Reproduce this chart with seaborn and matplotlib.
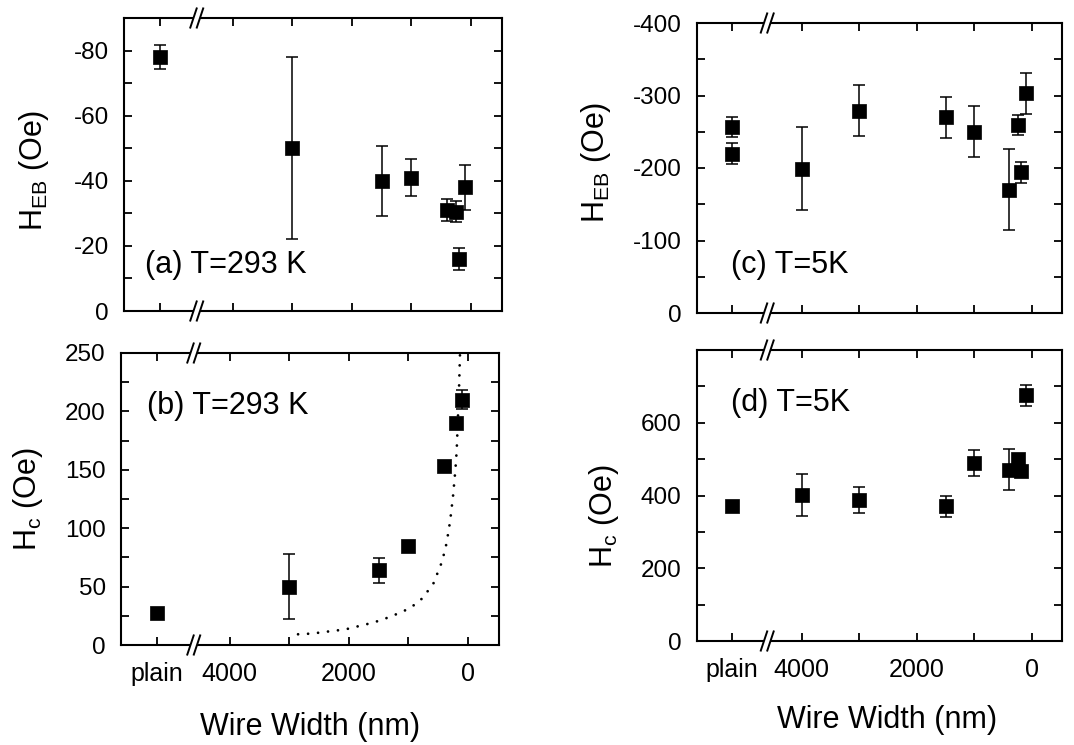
import matplotlib
matplotlib.use("Agg")
import matplotlib.pyplot as plt
from matplotlib.patches import Rectangle
from matplotlib.ticker import FixedLocator
import pandas as pd
import seaborn as sns

# ---------------------------------------------------------------- data
# wire widths in nm; "plain" is the unpatterned reference film
width_a = ["plain", 3000, 1500, 1000, 400, 250, 200, 100]
heb_a = [-78, -50, -40, -41, -31, -30.5, -16, -38]
err_a = [3.7, 28, 10.7, 5.6, 3.5, 3.3, 3.5, 7]

width_b = ["plain", 3000, 1500, 1000, 400, 200, 100]
hc_b = [27, 50, 64, 85, 153, 190, 210]
err_b = [2, 28, 10.5, 3, 2, 4, 8]

# dotted guide curve in panel (b)
fit_w = [3000, 2610, 2420, 2220, 2030, 1580, 1300, 1030, 860, 750, 670, 580,
         530, 470, 420, 360, 300, 250, 210, 190, 178, 150, 135]
fit_hc = [8.8, 9.8, 11.1, 12.3, 13.7, 19.3, 24.2, 30.2, 35.6, 40.8, 46.5, 52.7,
          59.3, 66.4, 74.5, 87, 106, 128, 151, 166, 182, 220, 248]

width_c = ["plain", "plain", 4000, 3000, 1500, 1000, 400, 250, 200, 100]
heb_c = [-257, -220, -199, -279, -270, -250, -170, -259, -194, -303]
err_c = [14, 14, 57, 35, 28, 35, 56, 14, 14, 28]

width_d = ["plain", 4000, 3000, 1500, 1000, 400, 250, 200, 100]
hc_d = [370, 402, 388, 370, 490, 471, 499, 466, 675]
err_d = [15, 57, 36, 30, 36, 57, 10, 10, 28]

x_tick_labels = ["plain", "4000", "2000", "0"]

# ---------------------------------------------------------------- style
sns.set_theme(style="ticks")
plt.rcParams["font.family"] = ["Liberation Sans", "DejaVu Sans"]
plt.rcParams["axes.unicode_minus"] = False
plt.rcParams["mathtext.default"] = "regular"
for key in ("text.color", "axes.labelcolor", "xtick.color", "ytick.color",
            "axes.edgecolor", "xtick.labelcolor", "ytick.labelcolor"):
    plt.rcParams[key] = "black"

PLAIN_POS = 5220     # where the plain film sits on the width axis
BREAK_POS = 4600     # axis break between plain film and wires
XLIM = (5820, -520)  # width decreases to the right

W, H = 1074, 745
fig = plt.figure(figsize=(W / 100, H / 100), dpi=100)
fig.patch.set_facecolor("white")


def add_axes_px(left, right, top, bottom):
    return fig.add_axes([left / W, 1 - bottom / H, (right - left) / W, (bottom - top) / H])


def to_pos(widths):
    return [PLAIN_POS if w == "plain" else w for w in widths]


def draw_points(ax, widths, vals, errs):
    df = pd.DataFrame({"x": to_pos(widths), "y": vals, "e": errs})
    ax.errorbar(df["x"], df["y"], yerr=df["e"], fmt="none", ecolor="black",
                elinewidth=1.1, capsize=4.5, capthick=1.1, zorder=2)
    sns.scatterplot(data=df, x="x", y="y", ax=ax, marker="s", s=90,
                    color="black", edgecolor="black", linewidth=0.5, zorder=3,
                    legend=False)


def style_axes(ax, major_y, minor_y, ylim, bottom_labels):
    ax.set_xlim(*XLIM)
    ax.set_ylim(*ylim)
    ax.xaxis.set_major_locator(FixedLocator([PLAIN_POS, 4000, 2000, 0]))
    ax.xaxis.set_minor_locator(FixedLocator([3000, 1000]))
    ax.yaxis.set_major_locator(FixedLocator(major_y))
    ax.yaxis.set_minor_locator(FixedLocator(minor_y))
    if bottom_labels:
        ax.set_xticklabels(x_tick_labels)
    else:
        ax.set_xticklabels([])
    ax.set_yticklabels([f"{v:g}" for v in major_y])
    for which in ("major", "minor"):
        ax.tick_params(axis="both", which=which, direction="in", length=6,
                       width=1.3, top=True, right=True, color="black")
    ax.tick_params(axis="y", which="major", labelsize=17.5, pad=11)
    ax.tick_params(axis="x", which="major", labelsize=18, pad=12.5)
    for sp in ax.spines.values():
        sp.set_linewidth(1.5)
        sp.set_color("black")
        sp.set_visible(True)
    ax.set_xlabel("")
    ax.set_ylabel("")


def draw_break(ax):
    bb = ax.get_position()
    w_px = bb.width * W
    h_px = bb.height * H
    xf = (XLIM[0] - BREAK_POS) / (XLIM[0] - XLIM[1])
    sep = 6.5 / w_px
    dx = 3.5 / w_px
    dy = 10.5 / h_px
    for y in (0.0, 1.0):
        ax.add_patch(Rectangle((xf - sep / 2, y - 3 / h_px), sep, 6 / h_px,
                               transform=ax.transAxes, facecolor="white",
                               edgecolor="none", clip_on=False, zorder=5))
        for off in (-sep / 2, sep / 2):
            ax.plot([xf + off - dx, xf + off + dx], [y - dy, y + dy],
                    transform=ax.transAxes, color="black", lw=1.4,
                    clip_on=False, zorder=6, solid_capstyle="butt")


# ---------------------------------------------------------------- panels
ax_a = add_axes_px(124, 502, 18, 311)
ax_b = add_axes_px(121, 499, 353, 645)
ax_c = add_axes_px(697, 1062, 23, 313)
ax_d = add_axes_px(697, 1062, 350, 641)

LABEL_FS = 22

# (a)
draw_points(ax_a, width_a, heb_a, err_a)
style_axes(ax_a, [0, -20, -40, -60, -80], [-10, -30, -50, -70, -90], (0, -90), False)
ax_a.set_ylabel("H$_{EB}$ (Oe)", fontsize=LABEL_FS)
ax_a.yaxis.set_label_coords(-0.194, 0.48)
ax_a.text(0.055, 0.13, "(a) T=293 K", transform=ax_a.transAxes, fontsize=LABEL_FS,
          ha="left", va="baseline")

# (b)
sns.lineplot(x=fit_w, y=fit_hc, ax=ax_b, color="black", lw=2.0,
             linestyle=(0, (0.01, 3.6)), dash_capstyle="round", zorder=1,
             estimator=None, sort=True)
draw_points(ax_b, width_b, hc_b, err_b)
style_axes(ax_b, [0, 50, 100, 150, 200, 250], [25, 75, 125, 175, 225], (0, 250), True)
ax_b.set_ylabel("H$_c$ (Oe)", fontsize=LABEL_FS)
ax_b.yaxis.set_label_coords(-0.202, 0.5)
ax_b.set_xlabel("Wire Width (nm)", fontsize=LABEL_FS)
ax_b.xaxis.set_label_coords(0.5, -0.228)
ax_b.text(0.07, 0.79, "(b) T=293 K", transform=ax_b.transAxes, fontsize=LABEL_FS,
          ha="left", va="baseline")

# (c)
draw_points(ax_c, width_c, heb_c, err_c)
style_axes(ax_c, [0, -100, -200, -300, -400], [-50, -150, -250, -350], (0, -400), False)
ax_c.set_ylabel("H$_{EB}$ (Oe)", fontsize=LABEL_FS)
ax_c.yaxis.set_label_coords(-0.229, 0.52)
ax_c.text(0.093, 0.138, "(c) T=5K", transform=ax_c.transAxes, fontsize=LABEL_FS,
          ha="left", va="baseline")

# (d)
draw_points(ax_d, width_d, hc_d, err_d)
style_axes(ax_d, [0, 200, 400, 600], [100, 300, 500, 700], (0, 800), True)
ax_d.set_ylabel("H$_c$ (Oe)", fontsize=LABEL_FS)
ax_d.yaxis.set_label_coords(-0.208, 0.43)
ax_d.set_xlabel("Wire Width (nm)", fontsize=LABEL_FS)
ax_d.xaxis.set_label_coords(0.52, -0.22)
ax_d.text(0.093, 0.79, "(d) T=5K", transform=ax_d.transAxes, fontsize=LABEL_FS,
          ha="left", va="baseline")

for ax in (ax_a, ax_b, ax_c, ax_d):
    draw_break(ax)

fig.savefig("out.png", dpi=100, facecolor="white")
